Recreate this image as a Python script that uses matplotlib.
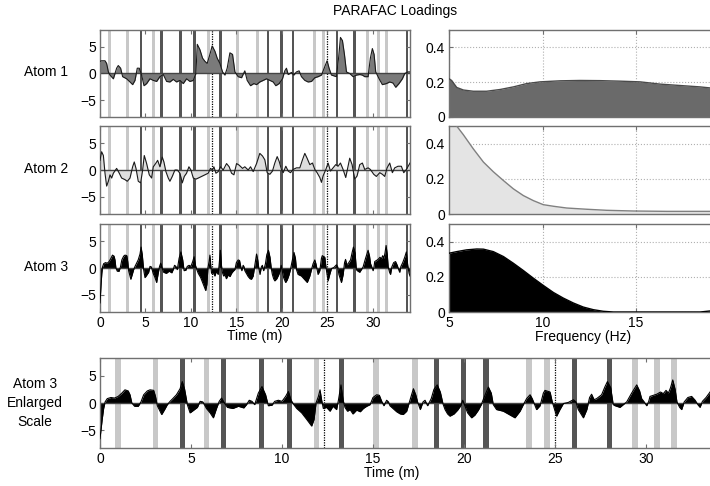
import matplotlib
matplotlib.use('Agg')
import matplotlib.pyplot as plt

plt.rcParams['font.family'] = ['Liberation Sans', 'DejaVu Sans']
plt.rcParams['font.size'] = 10

# event markers along the time axis (minutes)
light_bars = [1.0, 3.05, 5.85, 11.9, 15.17, 17.3, 23.57, 24.58, 29.4, 30.6, 31.55]
dark_bars = [4.52, 6.77, 8.88, 10.41, 13.28, 18.5, 19.96, 21.21, 26.06, 27.98, 33.75]
dotted_marks = [12.32, 25.0]

# temporal loadings, (time in m, loading)
atom1_time = [
    (0, 2.3), (0.18, 2.4), (0.55, 2.4), (0.73, 1.9), (0.92, 0.3), (1.10, -0.3), (1.47, -1.0),
    (1.83, 1.0), (2.01, 1.5), (2.27, 1.0), (2.49, -0.6), (2.93, -1.0), (3.30, -1.6), (3.59, -2.1),
    (3.85, -1.3), (4.10, 1.0), (4.32, 1.0), (4.58, -0.3), (4.84, -2.3), (5.13, -1.9), (5.49, -1.0),
    (5.86, -1.3), (6.23, -1.5), (6.59, -0.6), (6.96, -0.2), (7.33, -1.5), (7.69, -1.6), (8.06, -1.1),
    (8.42, -1.6), (8.79, -1.3), (9.16, -1.9), (9.52, -1.0), (9.89, -1.5), (10.26, -1.3), (10.55, 0.0),
    (10.70, 5.5), (10.99, 4.5), (11.28, 2.9), (11.54, 2.3), (11.79, 1.9), (12.09, 3.6), (12.34, 5.2),
    (12.64, 4.2), (12.89, 2.9), (13.19, 1.9), (13.48, 0.3), (13.74, -0.3), (13.99, 1.0), (14.29, 3.9),
    (14.58, 3.6), (14.84, 0.3), (15.20, -0.6), (15.57, -0.8), (15.93, 0.5), (16.19, -1.3), (16.56, -2.3),
    (16.92, -1.9), (17.22, -2.1), (17.58, -1.6), (17.95, -1.3), (18.32, -1.0), (18.68, -1.3), (19.05, -1.6),
    (19.34, -2.3), (19.71, -1.9), (20.07, -1.0), (20.33, 0.5), (20.51, 1.0), (20.70, -0.2), (21.06, 0.2),
    (21.32, -0.3), (21.61, 0.3), (21.90, 0.5), (22.16, -0.6), (22.53, -1.3), (22.89, -1.6), (23.26, -1.5),
    (23.63, -0.8), (23.99, -0.6), (24.36, -0.3), (24.73, 1.3), (24.98, 2.4), (25.20, 1.0), (25.46, -0.3),
    (26.01, -0.6), (26.26, 3.2), (26.45, 6.8), (26.67, 6.2), (26.89, 3.6), (27.11, 0.3), (27.47, 0.0),
    (27.84, -0.6), (28.21, -0.3), (28.57, -0.2), (28.86, -0.3), (29.12, -0.6), (29.49, -0.6), (29.74, 2.9),
    (29.96, 4.7), (30.15, 3.6), (30.33, 0.3), (30.70, -1.0), (31.06, -2.1), (31.50, -1.9), (31.87, -1.6),
    (32.23, -1.8), (32.53, -2.6), (32.89, -1.9), (33.26, -1.0), (33.52, 0.0), (33.88, 0.3), (34.1, 0.3),
]

atom2_time = [
    (0, 1.8), (0.18, 3.4), (0.37, 2.7), (0.55, -0.6), (0.73, -3.0), (0.92, -2.1), (1.10, -0.9),
    (1.28, -1.5), (1.47, -0.6), (1.83, 0.3), (2.12, -0.6), (2.38, -1.5), (2.75, -1.8), (3.00, -2.1),
    (3.30, -1.5), (3.59, 0.6), (3.77, 1.5), (3.96, 0.3), (4.21, -2.1), (4.47, -2.4), (4.69, 0.0),
    (4.87, 2.7), (5.13, 1.2), (5.42, -0.9), (5.68, -1.5), (5.86, 0.6), (6.12, 1.2), (6.34, 1.8),
    (6.59, 0.6), (6.85, 2.4), (7.03, 1.5), (7.25, -0.3), (7.51, -1.5), (7.69, -2.1), (7.95, -1.2),
    (8.24, 0.0), (8.50, 0.0), (8.79, -0.6), (9.05, -2.4), (9.27, -1.2), (9.52, -0.6), (9.78, 0.6),
    (10.00, 0.0), (10.26, -1.5), (10.55, -1.7), (10.81, -1.5), (11.17, -1.2), (11.54, -0.9), (11.90, -0.6),
    (12.16, 0.3), (12.38, 0.0), (12.53, 0.6), (12.75, -0.6), (13.00, -0.3), (13.26, 0.6), (13.55, 0.0),
    (13.92, 1.2), (14.21, 0.6), (14.47, -0.6), (14.73, -0.9), (15.02, 1.2), (15.31, 0.9), (15.68, 0.3),
    (15.93, 0.6), (16.30, 0.0), (16.56, 0.6), (16.85, -0.3), (17.22, 1.2), (17.58, 3.1), (17.88, 2.6),
    (18.13, 1.9), (18.39, -0.5), (18.68, -0.8), (18.97, -0.2), (19.23, 1.3), (19.49, 2.5), (19.71, 1.6),
    (19.96, 0.1), (20.15, -0.5), (20.44, 0.7), (20.70, -0.2), (20.95, -0.5), (21.25, 0.1), (21.61, 0.4),
    (21.98, 0.4), (22.27, 1.9), (22.53, 3.1), (22.78, 2.2), (23.08, 1.0), (23.37, 1.3), (23.63, 0.1),
    (23.88, -0.5), (24.18, -1.4), (24.36, -2.3), (24.54, -1.1), (24.84, 0.1), (25.09, 1.3), (25.35, -0.2),
    (25.64, 0.4), (25.93, 1.0), (26.19, 0.7), (26.45, 1.3), (26.74, 0.1), (27.03, -1.4), (27.29, 0.7),
    (27.47, 2.2), (27.73, 1.0), (28.02, -1.7), (28.28, -1.1), (28.57, 1.0), (28.86, 1.3), (29.12, 0.1),
    (29.49, 0.4), (29.74, 0.1), (30.11, -0.8), (30.40, -1.2), (30.77, -0.5), (31.06, -0.8), (31.32, -1.2),
    (31.58, 0.4), (31.87, 1.3), (32.16, -0.5), (32.42, 0.4), (32.78, 0.7), (33.15, 0.7), (33.41, -0.5),
    (33.70, 0.1), (34.1, 1.3),
]

atom3_time = [
    (0, -6.5), (0.05, -5.0), (0.12, -3.0), (0.2, -1.0), (0.28, 0.2), (0.4, 0.8), (0.6, 1.0), (0.8, 0.9),
    (1.0, 1.2), (1.2, 1.8), (1.37, 2.4), (1.55, 2.2), (1.65, 1.5), (1.75, 0.0), (1.9, -0.6), (2.1, -0.6),
    (2.25, 0.2), (2.4, 1.5), (2.6, 2.2), (2.75, 2.4), (2.95, 2.3), (3.05, 1.2), (3.15, -0.5), (3.39, -2.1),
    (3.55, -1.2), (3.7, -0.3), (3.85, 0.3), (4.0, 0.8), (4.2, 1.5), (4.4, 2.6), (4.52, 3.9), (4.65, 2.5),
    (4.8, -0.3), (4.95, -1.8), (5.15, -1.3), (5.35, -0.8), (5.5, 0.3), (5.65, 0.2), (5.85, -1.0), (6.05, -1.8),
    (6.23, -2.7), (6.4, -1.0), (6.55, 0.3), (6.68, 0.9), (6.8, 0.2), (7.0, -0.8), (7.3, -1.0), (7.6, -0.6),
    (7.9, -0.9), (8.05, -0.3), (8.2, 0.5), (8.35, 0.3), (8.5, -0.3), (8.7, 1.8), (8.9, 3.0), (9.1, 1.5),
    (9.25, -0.5), (9.45, -0.4), (9.6, 0.3), (9.8, 0.5), (10.0, 0.3), (10.2, 1.2), (10.35, 2.1), (10.5, 0.5),
    (10.65, -0.3), (10.81, -1.0), (11.08, -1.8), (11.36, -3.0), (11.63, -4.2), (11.76, -3.0), (11.87, 0.0),
    (12.0, 1.2), (12.09, 2.4), (12.18, 0.5), (12.27, -1.0), (12.45, -0.8), (12.64, -1.5), (12.8, -0.6),
    (13.0, -1.2), (13.1, 0.5), (13.24, 3.3), (13.36, 0.5), (13.46, -0.8), (13.6, -1.5), (13.74, -1.2),
    (13.9, -2.0), (14.1, -1.3), (14.3, -1.6), (14.47, -1.0), (14.65, -0.6), (14.84, -0.3), (15.0, 1.0),
    (15.2, 1.5), (15.35, 1.4), (15.48, 0.3), (15.6, -0.5), (15.75, 0.5), (15.85, 0.2), (15.93, -0.5),
    (16.1, -1.0), (16.3, -1.6), (16.5, -2.0), (16.66, -2.1), (16.85, -1.5), (17.03, 0.5), (17.22, 2.6),
    (17.35, 1.5), (17.45, 0.2), (17.6, -1.2), (17.75, 0.2), (17.86, 0.5), (18.0, -0.5), (18.2, 0.8),
    (18.35, 2.5), (18.53, 3.3), (18.7, 2.0), (18.85, -0.2), (18.96, -1.2), (19.1, -2.0), (19.23, -2.4),
    (19.45, -2.0), (19.65, -1.3), (19.82, -0.5), (19.93, 0.5), (20.05, -0.5), (20.2, -1.8), (20.42, -2.7),
    (20.6, -2.2), (20.79, -1.3), (20.95, -0.3), (21.1, 1.0), (21.34, 2.9), (21.5, 1.8), (21.61, -0.3),
    (21.79, -1.2), (22.16, -1.5), (22.53, -2.2), (22.8, -2.7), (23.08, -1.5), (23.26, -0.3), (23.44, 0.8),
    (23.63, 1.5), (23.75, 0.8), (23.99, -1.2), (24.18, -0.5), (24.36, 1.8), (24.45, 2.3), (24.73, 2.0),
    (24.85, 0.2), (25.09, -2.4), (25.27, -1.2), (25.46, -0.1), (25.73, 0.1), (26.01, 0.6), (26.15, 0.2),
    (26.28, -1.2), (26.56, -2.7), (26.75, -1.2), (26.9, 1.0), (27.01, 1.6), (27.15, 0.6), (27.29, 0.8),
    (27.56, 1.5), (27.75, 3.0), (27.88, 3.9), (28.06, 2.8), (28.2, -0.3), (28.3, -0.5), (28.57, -0.8),
    (28.75, -0.3), (28.94, 0.2), (29.21, 1.8), (29.49, 3.3), (29.65, 2.2), (29.76, 0.8), (29.9, 0.2),
    (30.04, -0.5), (30.15, 0.3), (30.22, 1.2), (30.59, 1.6), (30.8, 2.0), (30.95, 1.7), (31.1, 2.3),
    (31.23, 1.8), (31.35, 2.8), (31.47, 4.2), (31.6, 2.5), (31.7, 0.2), (31.85, -0.8), (31.96, -1.2),
    (32.1, 0.2), (32.3, 1.0), (32.51, 1.2), (32.7, 0.5), (32.85, -0.3), (32.97, -0.8), (33.1, 0.3),
    (33.3, 1.0), (33.52, 2.0), (33.7, 3.0), (33.85, 0.5), (34.0, -1.0), (34.1, -1.5),
]

# spectral loadings, (frequency in Hz, loading)
atom1_freq = [(5.0, 0.22), (5.14, 0.21), (5.41, 0.17), (5.77, 0.155), (6.30, 0.148), (7.01, 0.148),
              (7.73, 0.158), (8.44, 0.173), (9.15, 0.192), (9.87, 0.202), (10.94, 0.208), (12.0, 0.21),
              (13.07, 0.209), (14.14, 0.206), (15.21, 0.202), (16.28, 0.189), (17.35, 0.181),
              (18.42, 0.173), (18.96, 0.167), (20.5, 0.155)]
atom2_freq = [(5.0, 0.56), (5.41, 0.5), (5.77, 0.45), (6.30, 0.37), (6.84, 0.295), (7.37, 0.24),
              (7.91, 0.19), (8.44, 0.143), (8.97, 0.105), (9.51, 0.076), (10.04, 0.053), (10.58, 0.044),
              (11.29, 0.034), (12.36, 0.027), (13.43, 0.021), (14.86, 0.017), (16.64, 0.015),
              (18.96, 0.015), (20.5, 0.015)]
atom3_freq = [(5.0, 0.334), (5.41, 0.343), (5.94, 0.353), (6.48, 0.358), (6.84, 0.357), (7.37, 0.343),
              (7.91, 0.315), (8.44, 0.277), (8.97, 0.236), (9.51, 0.192), (10.04, 0.151), (10.58, 0.111),
              (11.11, 0.079), (11.65, 0.051), (12.18, 0.028), (12.72, 0.013), (13.25, 0.004),
              (13.79, 0.0), (18.42, 0.0), (18.96, 0.006), (20.5, 0.01)]

row_names = ['Atom 1', 'Atom 2', 'Atom 3']
time_fill = ['#7a7a7a', '#dedede', 'black']
time_line = ['#1a1a1a', '#1a1a1a', 'black']
freq_fill = ['#6a6a6a', '#e4e4e4', 'black']
freq_line = ['#4a4a4a', '#808080', 'black']

W_PX, H_PX = 710, 486
spine_col = '#707070'


def style_axes(ax):
    for s in ax.spines.values():
        s.set_color(spine_col)
        s.set_linewidth(1.0)
    ax.tick_params(direction='in', length=3, top=True, right=True,
                   color=spine_col, labelsize=10, pad=3)


def time_panel(ax, pts, fill, line):
    t = [p[0] for p in pts]
    v = [p[1] for p in pts]
    for b in light_bars:
        ax.axvspan(b - 0.16, b + 0.16, color='#c8c8c8', lw=0, zorder=1)
    for b in dark_bars:
        ax.axvspan(b - 0.14, b + 0.14, color='#555555', lw=0, zorder=1)
    for b in dotted_marks:
        ax.axvline(b, color='black', ls=(0, (1, 1)), lw=0.9, zorder=1)
    ax.fill_between(t, v, 0, color=fill, lw=0, zorder=2)
    ax.plot(t, v, color=line, lw=0.8, zorder=3)
    ax.axhline(0, color='#444444', lw=1.0, zorder=2.5)
    ax.set_xlim(0, 34.1)
    ax.set_ylim(-8.2, 8.2)
    ax.set_xticks([0, 5, 10, 15, 20, 25, 30])
    ax.set_yticks([-5, 0, 5])
    style_axes(ax)


def freq_panel(ax, pts, fill, line):
    f = [p[0] for p in pts]
    s = [p[1] for p in pts]
    ax.set_axisbelow(True)
    ax.grid(True, ls=':', color='#b0b0b0', lw=0.8)
    ax.fill_between(f, s, 0, color=fill, lw=0, zorder=2)
    ax.plot(f, s, color=line, lw=1.0, zorder=3)
    ax.set_xlim(5, 20.5)
    ax.set_ylim(0, 0.5)
    ax.set_xticks([5, 10, 15])
    ax.set_yticks([0, 0.2, 0.4])
    ax.set_yticklabels(['0', '0.2', '0.4'])
    style_axes(ax)


fig = plt.figure(figsize=(W_PX / 100, H_PX / 100), dpi=100)

rows = [(30, 117), (126, 214), (224, 312)]
time_sets = [atom1_time, atom2_time, atom3_time]
freq_sets = [atom1_freq, atom2_freq, atom3_freq]

for i, (top, bot) in enumerate(rows):
    b = 1 - bot / H_PX
    h = (bot - top) / H_PX
    axl = fig.add_axes([100 / W_PX, b, 310 / W_PX, h])
    time_panel(axl, time_sets[i], time_fill[i], time_line[i])
    axr = fig.add_axes([449 / W_PX, b, 290 / W_PX, h])
    freq_panel(axr, freq_sets[i], freq_fill[i], freq_line[i])
    if i < 2:
        axl.set_xticklabels([])
        axr.set_xticklabels([])
    fig.text(46 / W_PX, 1 - ((top + bot) / 2 - 1) / H_PX, row_names[i],
             ha='center', va='center', fontsize=10)

# enlarged atom 3
axb = fig.add_axes([100 / W_PX, 1 - 448 / H_PX, 34.1 * 18.2 / W_PX, 90 / H_PX])
time_panel(axb, atom3_time, 'black', 'black')
axb.tick_params(right=False)

fig.text(395 / W_PX, 1 - 11 / H_PX, 'PARAFAC Loadings', ha='center', va='center', fontsize=10)
fig.text(255 / W_PX, 1 - 336 / H_PX, 'Time (m)', ha='center', va='center', fontsize=10)
fig.text(583 / W_PX, 1 - 337 / H_PX, 'Frequency (Hz)', ha='center', va='center', fontsize=10)
fig.text(392 / W_PX, 1 - 473 / H_PX, 'Time (m)', ha='center', va='center', fontsize=10)
fig.text(35 / W_PX, 1 - 403 / H_PX, 'Atom 3\nEnlarged\nScale', ha='center', va='center',
         fontsize=10, linespacing=1.45)

fig.savefig('out.png', dpi=100)
